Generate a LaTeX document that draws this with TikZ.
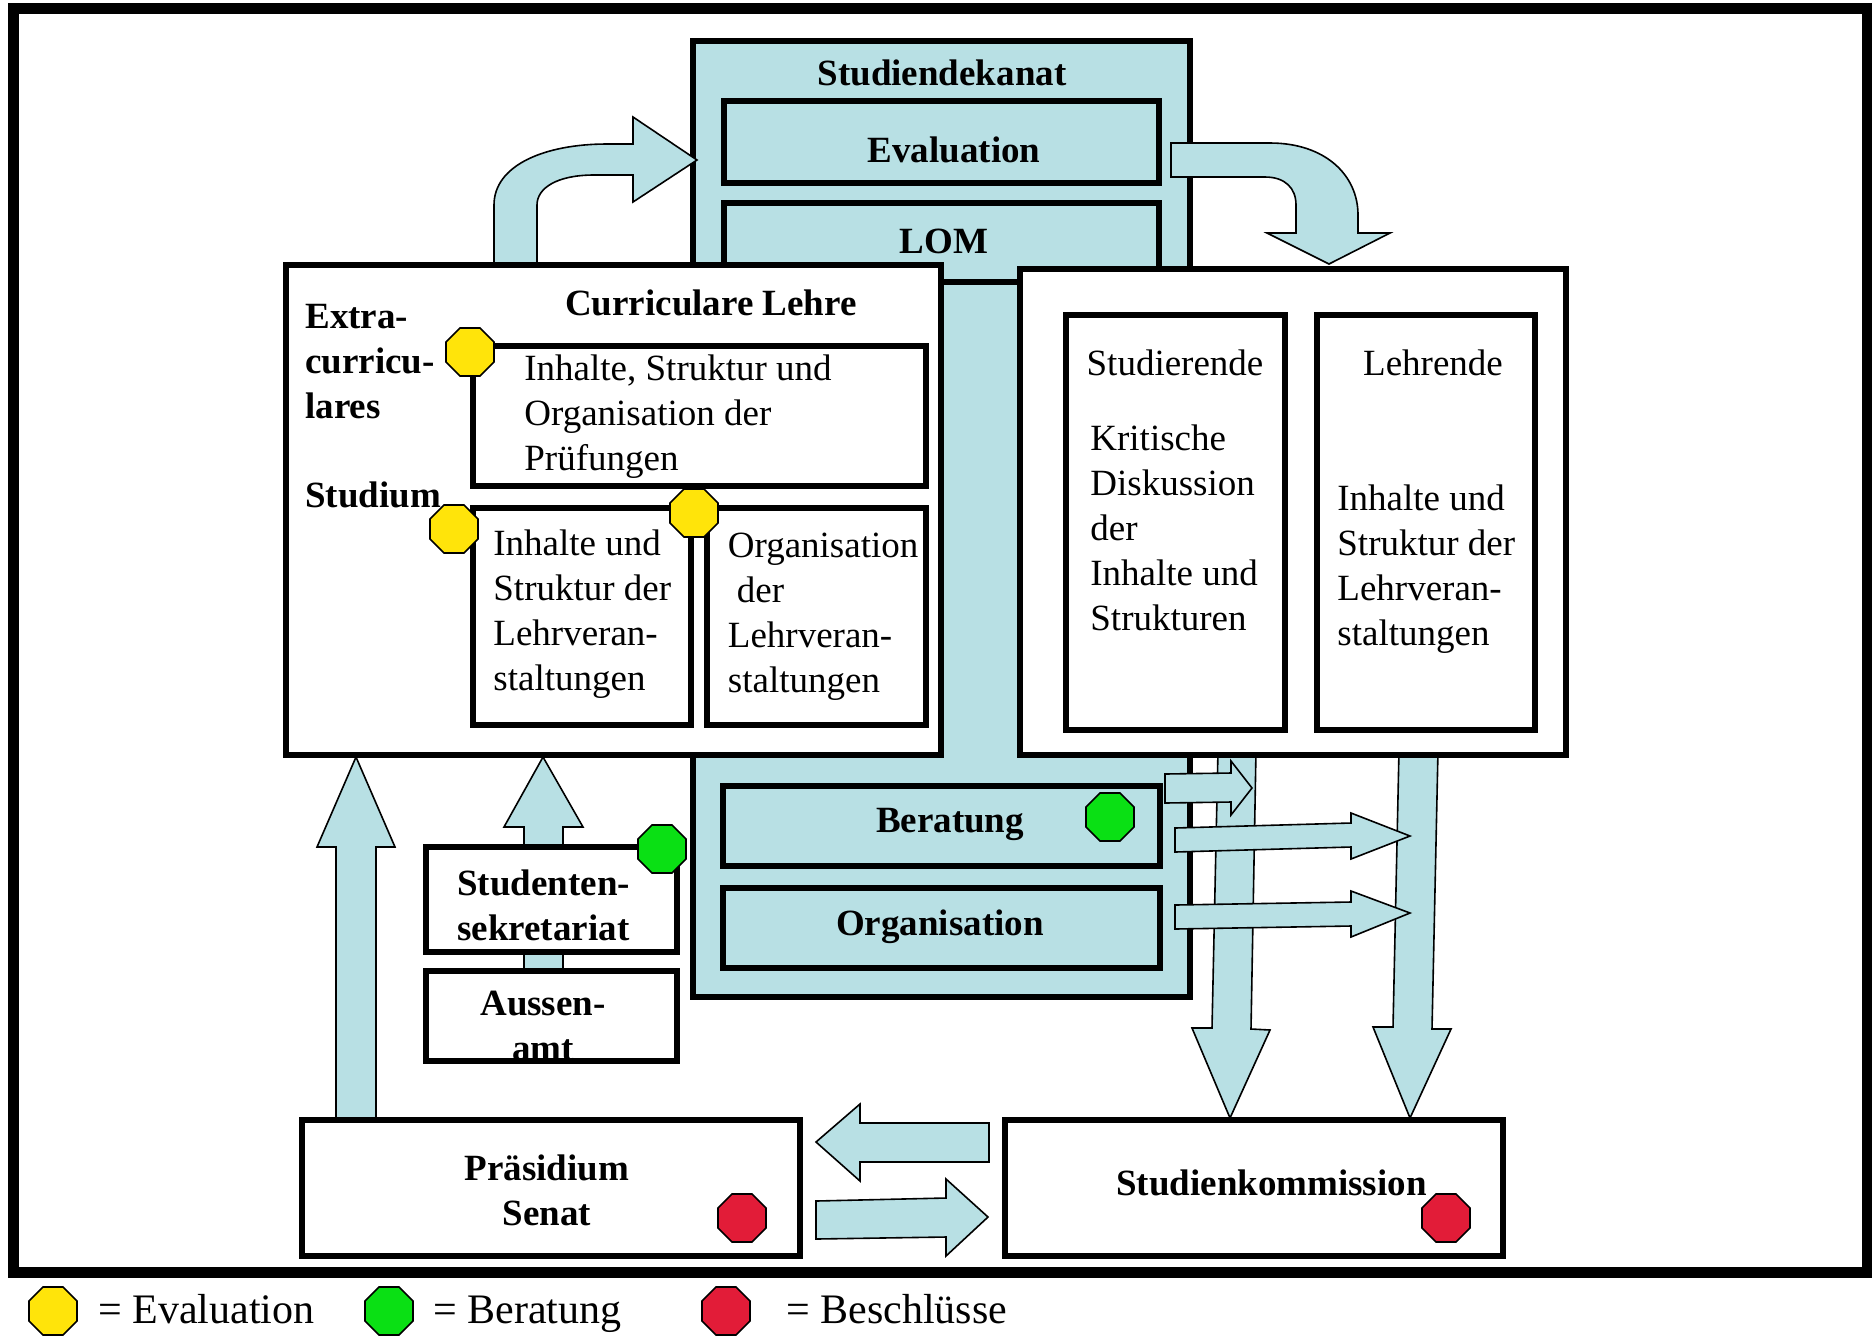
\documentclass[tikz,border=0pt]{standalone}
\usepackage{fontspec}
\setmainfont{Liberation Serif}
\usetikzlibrary{fit,shapes.geometric}
\definecolor{paleblue}{RGB}{184,224,228}
\definecolor{evalyellow}{RGB}{255,228,10}
\definecolor{adviseGreen}{RGB}{10,224,20}
\definecolor{decideRed}{RGB}{226,28,56}

\begin{document}
\begin{tikzpicture}[x=0.5pt,y=-0.5pt,
  frame/.style={draw, line width=3pt, inner sep=0pt},
  bluebox/.style={frame, fill=paleblue},
  whitebox/.style={frame, fill=white},
  blockarrow/.style={draw, fill=paleblue, line width=0.8pt, line join=miter},
  oct/.style={regular polygon, regular polygon sides=8, draw, line width=0.8pt,
              minimum size=26pt, inner sep=0pt},
  lbl/.style={font=\bfseries\fontsize{18.5}{22.5}\selectfont, inner sep=0pt},
  txt/.style={font=\fontsize{18.5}{22.5}\selectfont, inner sep=0pt},
  blk/.style={lbl, align=left, anchor=north west},
  para/.style={txt, align=left, anchor=north west},
  legendtxt/.style={font=\fontsize{21}{25}\selectfont, inner sep=0pt, anchor=base west},
]
% canvas
\fill[white] (0,0) rectangle (1872,1335);
\useasboundingbox (0,0) rectangle (1872,1335);

% outer frame
\node[draw, line width=5.5pt, inner sep=0pt, fit={(13.5,8.5) (1867,1272)}] (outer) {};

% Studiendekanat with its inner units
\node[bluebox, fit={(693,41) (1190,997)}] (dekanat) {};
\node[bluebox, fit={(724,101) (1159,183)}] (eval) {};
\node[bluebox, fit={(724,203) (1159,282)}] (lom) {};
\node[bluebox, fit={(723,786) (1160,866)}] (beratung) {};
\node[bluebox, fit={(723,888) (1160,968)}] (orga) {};

% curved arrow: Lehre -> Evaluation
\draw[blockarrow] (494,268) -- (494,205) .. controls (494,165) and (545,144) .. (607,144)
  -- (633,144) -- (633,117) -- (697,160) -- (633,202) -- (633,175) -- (594,175)
  .. controls (557,175) and (537,188) .. (537,205) -- (537,268) -- cycle;
% curved arrow: Evaluation -> Studierende/Lehrende
\draw[blockarrow] (1171,143) -- (1270,143) .. controls (1325,143) and (1358,175) .. (1358,215)
  -- (1358,233) -- (1390,233) -- (1329,264) -- (1267,233) -- (1296,233) -- (1296,205)
  .. controls (1296,188) and (1285,177) .. (1265,177) -- (1171,177) -- cycle;

% down arrows to Studienkommission
\draw[blockarrow] (1218,750) -- (1212,1028) -- (1192,1028) -- (1230,1118) -- (1270,1030)
  -- (1251,1029) -- (1256,750) -- cycle;
\draw[blockarrow] (1399,750) -- (1393,1027) -- (1373,1027) -- (1410,1118) -- (1451,1029)
  -- (1432,1029) -- (1438,750) -- cycle;

% up arrows to the Lehre block
\draw[blockarrow] (336,1124) -- (336,847) -- (317,847) -- (356,757) -- (395,847)
  -- (376,847) -- (376,1124) -- cycle;
\draw[blockarrow] (524,975) -- (524,827) -- (504,827) -- (543,757) -- (583,827)
  -- (563,827) -- (563,975) -- cycle;

% Lehre block
\node[whitebox, fit={(286,265) (941,755)}] (lehre) {};
\node[whitebox, fit={(473,346) (926,486)}] (pruef) {};
\node[whitebox, fit={(473,508) (691,725)}] (lvstruktur) {};
\node[whitebox, fit={(707,508) (926,725)}] (lvorga) {};

% Studierende / Lehrende block
\node[whitebox, fit={(1020,269) (1566,755)}] (gruppen) {};
\node[whitebox, fit={(1066,315) (1285,730)}] (studierende) {};
\node[whitebox, fit={(1317,315) (1535,730)}] (lehrende) {};

% arrows out of Beratung and Organisation
\draw[blockarrow] (1165,774) -- (1231,773) -- (1231,761) -- (1252,788) -- (1231,815)
  -- (1231,802) -- (1165,803) -- cycle;
\draw[blockarrow] (1175,828) -- (1351,823) -- (1351,813) -- (1410,836) -- (1351,859)
  -- (1351,847) -- (1175,852) -- cycle;
\draw[blockarrow] (1175,905) -- (1351,902) -- (1351,891) -- (1410,913) -- (1351,937)
  -- (1351,926) -- (1175,929) -- cycle;

% offices
\node[whitebox, fit={(426,847) (677,952)}] (sekretariat) {};
\node[whitebox, fit={(426,971) (677,1061)}] (aussenamt) {};

% Praesidium / Senat and Studienkommission
\node[whitebox, fit={(302,1120) (800,1256)}] (praesidium) {};
\node[whitebox, fit={(1005,1120) (1503,1256)}] (kommission) {};
\draw[blockarrow] (989,1123) -- (860,1123) -- (860,1104) -- (816,1142) -- (860,1181)
  -- (860,1162) -- (989,1162) -- cycle;
\draw[blockarrow] (816,1201) -- (946,1198) -- (946,1179) -- (988,1217) -- (946,1256)
  -- (946,1237) -- (816,1239) -- cycle;

% labels
\node[lbl, anchor=base] (tDekanat) at (942,85) {Studiendekanat};
\node[lbl, anchor=base] (tEval) at (954,162) {Evaluation};
\node[lbl, anchor=base] (tLom) at (944,253) {LOM};
\node[lbl, anchor=base] (tBeratung) at (950,832) {Beratung};
\node[lbl, anchor=base] (tOrga) at (940,935) {Organisation};
\node[lbl, anchor=base] (tCurr) at (711,315) {Curriculare Lehre};
\node[blk] (tExtra) at (305,296.5) {\strut Extra-\\curricu-\\lares};
\node[lbl, anchor=base west] (tStudium) at (305,507) {Studium};
\node[para] (tPruef) at (524,348.5) {\strut Inhalte, Struktur und\\Organisation der\\Prüfungen};
\node[para] (tLvS) at (493,523.5) {\strut Inhalte und\\Struktur der\\Lehrveran-\\staltungen};
\node[para] (tLvO) at (727.5,525.5) {\strut Organisation\\\hspace*{4.5pt}der\\Lehrveran-\\staltungen};
\node[txt, anchor=base] (tStudierende) at (1175,375) {Studierende};
\node[para] (tKritik) at (1090,418.5) {\strut Kritische\\Diskussion\\der\\Inhalte und\\Strukturen};
\node[txt, anchor=base] (tLehrende) at (1433,375) {Lehrende};
\node[para] (tLehrInh) at (1337,478.5) {\strut Inhalte und\\Struktur der\\Lehrveran-\\staltungen};
\node[blk] (tSekr) at (457,863.5) {\strut Studenten-\\sekretariat};
\node[lbl, align=center, anchor=north] (tAussen) at (543,983.5) {\strut Aussen-\\amt};
\node[lbl, align=center, anchor=north] (tPraes) at (547,1148.5) {\strut Präsidium\\Senat};
\node[lbl, anchor=base] (tKomm) at (1271.5,1195) {Studienkommission};

% markers
\node[oct, fill=evalyellow] (e1) at (470,352) {};
\node[oct, fill=evalyellow] (e2) at (454,529) {};
\node[oct, fill=evalyellow] (e3) at (694,513) {};
\node[oct, fill=adviseGreen] (b1) at (1110,817) {};
\node[oct, fill=adviseGreen] (b2) at (662,849) {};
\node[oct, fill=decideRed] (r1) at (742,1218) {};
\node[oct, fill=decideRed] (r2) at (1446,1218) {};

% legend
\node[oct, fill=evalyellow] (legE) at (53,1311) {};
\node[legendtxt] (legEt) at (98,1323) {= Evaluation};
\node[oct, fill=adviseGreen] (legB) at (389,1311) {};
\node[legendtxt] (legBt) at (433,1323) {= Beratung};
\node[oct, fill=decideRed] (legR) at (726,1311) {};
\node[legendtxt] (legRt) at (786,1323) {= Beschlüsse};
\end{tikzpicture}
\end{document}
